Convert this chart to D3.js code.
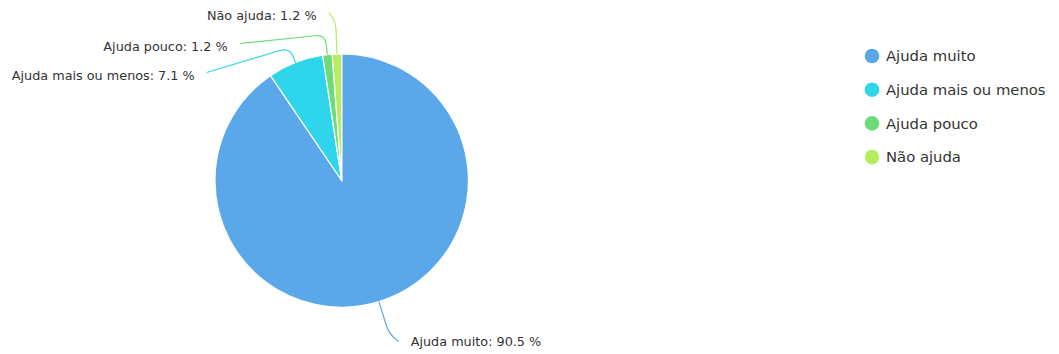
<!DOCTYPE html>
<html>
<head>
<meta charset="utf-8">
<script src="https://cdn.jsdelivr.net/npm/d3@7"></script>
<style>
  html, body { margin: 0; padding: 0; background: #fff; }
  svg { display: block; }
  text { font-family: "DejaVu Sans", Verdana, sans-serif; fill: #333; }
</style>
</head>
<body>
<svg id="chart" width="1059" height="354"></svg>
<script>
// Survey answers and their shares (%)
const categories = ["Ajuda muito", "Ajuda mais ou menos", "Ajuda pouco", "Não ajuda"];
const shares = [90.5, 7.1, 1.2, 1.2];
const colors = ["#5aa7ea", "#2fd5ea", "#6bdc78", "#b5ed5e"];

const W = 1059, H = 354;
const cx = 341.7, cy = 180.5, R = 126.7;

const svg = d3.select("#chart");
const color = d3.scaleOrdinal().domain(categories).range(colors);

const data = categories.map((c, i) => ({ name: c, value: shares[i] }));
const pie = d3.pie().value(d => d.value).sort(null).startAngle(0).endAngle(2 * Math.PI);
const arcs = pie(data);
const arc = d3.arc().innerRadius(0).outerRadius(R);

const g = svg.append("g").attr("transform", `translate(${cx},${cy})`);

g.selectAll("path.slice")
  .data(arcs)
  .join("path")
  .attr("class", "slice")
  .attr("d", arc)
  .attr("fill", d => color(d.data.name))
  .attr("stroke", "#fff")
  .attr("stroke-width", 1.2);

// Label placement: tick length beyond the rim, side, and where the leader ends
const labelLayout = [
  { tick: 34, side: 1,  end: [57, 161] },
  { tick: 16, side: -1, end: [-135, -108] },
  { tick: 20, side: -1, end: [-102, -137] },
  { tick: 34, side: -1, end: [-13, -168] }
];

function polar(a, r) { return [Math.sin(a) * r, -Math.cos(a) * r]; }

arcs.forEach((d, i) => {
  const L = labelLayout[i];
  const mid = (d.startAngle + d.endAngle) / 2;
  const p0 = polar(mid, R);
  const knee = polar(mid, R + L.tick);
  const pre = polar(mid, R + L.tick - 9);
  const end = L.end;
  // point a few px from the knee toward the end
  const dx = end[0] - knee[0], dy = end[1] - knee[1];
  const len = Math.hypot(dx, dy);
  const post = [knee[0] + dx / len * 10, knee[1] + dy / len * 10];
  const path = d3.path();
  path.moveTo(p0[0], p0[1]);
  path.lineTo(pre[0], pre[1]);
  path.quadraticCurveTo(knee[0], knee[1], post[0], post[1]);
  path.lineTo(end[0], end[1]);
  g.append("path")
    .attr("d", path.toString())
    .attr("fill", "none")
    .attr("stroke", color(d.data.name))
    .attr("stroke-width", 1.2);

  g.append("text")
    .attr("x", end[0] + L.side * 12)
    .attr("y", end[1] + (L.side > 0 ? 0 : 3))
    .attr("dy", "0.35em")
    .attr("text-anchor", L.side > 0 ? "start" : "end")
    .attr("font-size", 12.8)
    .text(`${d.data.name}: ${d3.format(".1f")(d.data.value)} %`);
});

// Legend
const legend = svg.append("g").attr("transform", "translate(872,56)");
const items = legend.selectAll("g")
  .data(categories)
  .join("g")
  .attr("transform", (d, i) => `translate(0,${i * 33.7})`);
items.append("circle").attr("r", 7.3).attr("fill", d => color(d));
items.append("text")
  .attr("x", 14)
  .attr("dy", "0.35em")
  .attr("font-size", 14.8)
  .text(d => d);
</script>
</body>
</html>
